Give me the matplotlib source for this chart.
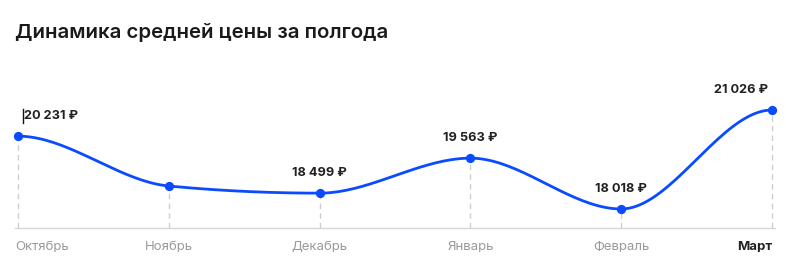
import numpy as np
import matplotlib.pyplot as plt

plt.rcParams['font.family'] = ['Inter', 'DejaVu Sans']

months = ["Октябрь", "Ноябрь", "Декабрь", "Январь", "Февраль", "Март"]
prices = [20231, 18716, 18499, 19563, 18018, 21026]
labels = ["20 231 ₽", None, "18 499 ₽", "19 563 ₽", "18 018 ₽", "21 026 ₽"]

blue = "#0a4bff"


def monotone_curve(x, y, n=40):
    # monotone cubic (like d3 curveMonotoneX)
    x = np.asarray(x, float)
    y = np.asarray(y, float)
    h = np.diff(x)
    s = np.diff(y) / h
    m = np.zeros_like(y)
    for i in range(1, len(y) - 1):
        if s[i - 1] * s[i] <= 0:
            m[i] = 0
        else:
            p = (s[i - 1] * h[i] + s[i] * h[i - 1]) / (h[i - 1] + h[i])
            m[i] = (np.sign(s[i - 1]) + np.sign(s[i])) * min(abs(s[i - 1]), abs(s[i]), 0.5 * abs(p))
    xs, ys = [], []
    for i in range(len(x) - 1):
        t = np.linspace(0, 1, n)
        h00 = 2 * t**3 - 3 * t**2 + 1
        h10 = t**3 - 2 * t**2 + t
        h01 = -2 * t**3 + 3 * t**2
        h11 = t**3 - t**2
        xs.append(x[i] + t * h[i])
        ys.append(h00 * y[i] + h10 * h[i] * m[i] + h01 * y[i + 1] + h11 * h[i] * m[i + 1])
    return np.concatenate(xs), np.concatenate(ys)


fig = plt.figure(figsize=(7.86, 2.70), dpi=100)
ax = fig.add_axes([15 / 786, 42 / 270, 760 / 786, 118 / 270])

xi = np.arange(len(months))
ymin = 17440
ax.set_xlim(-0.02, len(months) - 1 + 0.02)
ax.set_ylim(ymin, max(prices))

cx, cy = monotone_curve(xi, prices)
ax.plot(cx, cy, color=blue, lw=2, clip_on=False, zorder=3)
ax.scatter(xi, prices, s=32, color=blue, zorder=4, clip_on=False)
ax.vlines(xi, ymin, prices, colors="#cfcfcf", lw=1, linestyles=(0, (4, 3)), zorder=1)

for s in ["top", "left", "right"]:
    ax.spines[s].set_visible(False)
ax.spines["bottom"].set_color("#d6d6d6")
ax.spines["bottom"].set_linewidth(1)
ax.set_yticks([])
ax.set_xticks([])

for i, (m, lab, v) in enumerate(zip(months, labels, prices)):
    last = i == len(months) - 1
    ha = "left" if i == 0 else ("right" if last else "center")
    dx = -2 if i == 0 else 0
    ax.annotate(m, (i, ymin), xytext=(dx, -13.5), textcoords="offset points",
                ha=ha, va="center", fontsize=9.5,
                color="#222222" if last else "#9a9a9a",
                fontweight="bold" if last else "normal")
    if lab:
        dx = 0
        if i == 0:
            dx = 4
        if last:
            ha = "right"
            dx = -3
        ax.annotate(lab, (i, v), xytext=(dx, 14.5), textcoords="offset points",
                    ha=ha, va="center", fontsize=9.2, fontweight="bold", color="#222222")

# caret mark before first label
fig.add_artist(plt.Line2D([23 / 786, 23 / 786], [(270 - 123) / 270, (270 - 109) / 270],
                          color="#111111", lw=1))

fig.text(15 / 786, (270 - 33) / 270, "Динамика средней цены за полгода",
         fontsize=14.7, fontweight="semibold", color="#1a1a1a", va="center", ha="left")

fig.savefig("out.png", dpi=100)
